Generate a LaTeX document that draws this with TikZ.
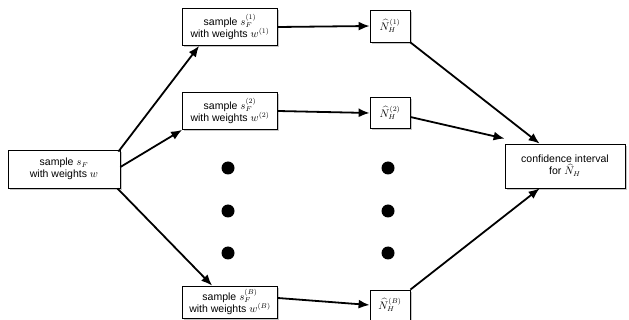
\documentclass[tikz,border=0pt]{standalone}
\usepackage{fontspec}
\setmainfont{Liberation Sans}
\usetikzlibrary{shadows,arrows.meta,calc}

\tikzset{
  box/.style={draw, thick, fill=white, align=center, inner sep=1pt,
    font=\fontsize{10.5}{12}\selectfont,
    drop shadow={shadow xshift=1.5pt, shadow yshift=-2pt, opacity=0.45}},
  arr/.style={-{Latex[length=11pt,width=9pt]}, line width=1.8pt},
  dot/.style={circle, fill=black, inner sep=0pt, minimum size=13pt}
}

\begin{document}
\begin{tikzpicture}[x=1pt,y=-1pt]
\useasboundingbox (0,0) rectangle (629,320);

% sample boxes
\node[box, minimum width=112pt, minimum height=38pt] (src) at (64,169)
  {sample $s_F$\\ with weights $w$};
\node[box, minimum width=95pt, minimum height=37pt] (s1) at (230,27)
  {sample $s_F^{(1)}$\\ with weights $w^{(1)}$};
\node[box, minimum width=95pt, minimum height=37pt] (s2) at (230,111)
  {sample $s_F^{(2)}$\\ with weights $w^{(2)}$};
\node[box, minimum width=95pt, minimum height=32pt] (sB) at (230,302)
  {sample $s_F^{(B)}$\\ with weights $w^{(B)}$};

% estimates
\node[box, minimum width=40pt, minimum height=32pt] (n1) at (390,26) {$\widehat{N}_H^{(1)}$};
\node[box, minimum width=40pt, minimum height=31pt] (n2) at (390,113) {$\widehat{N}_H^{(2)}$};
\node[box, minimum width=40pt, minimum height=30pt] (nB) at (390,305) {$\widehat{N}_H^{(B)}$};

\node[box, minimum width=120pt, minimum height=44pt] (conf) at (565,166)
  {confidence interval\\ for $\widehat{N}_H$};

% dots
\foreach \y [count=\i] in {168,211,253} {
  \node[dot] (da\i) at (228,\y) {};
  \node[dot] (db\i) at (388,\y) {};
}

% arrows
\draw[arr] ($(src.north east)+(-2,2)$) -- ($(s1.south west)+(17,0)$);
\draw[arr] ($(src.east)+(0,-2)$) -- (s2.south west);
\draw[arr] ($(src.south east)+(-3,0)$) -- ($(sB.north west)+(30,0)$);

\draw[arr] (s1.east) -- (n1.west);
\draw[arr] (s2.east) -- (n2.west);
\draw[arr] ($(sB.east)+(0,-4)$) -- (nB.west);

\draw[arr] (n1.south east) -- ($(conf.north west)+(35,0)$);
\draw[arr] ($(n2.east)+(0,4)$) -- ($(conf.north west)+(0,-5)$);
\draw[arr] (nB.north east) -- ($(conf.south west)+(35,0)$);
\end{tikzpicture}
\end{document}
